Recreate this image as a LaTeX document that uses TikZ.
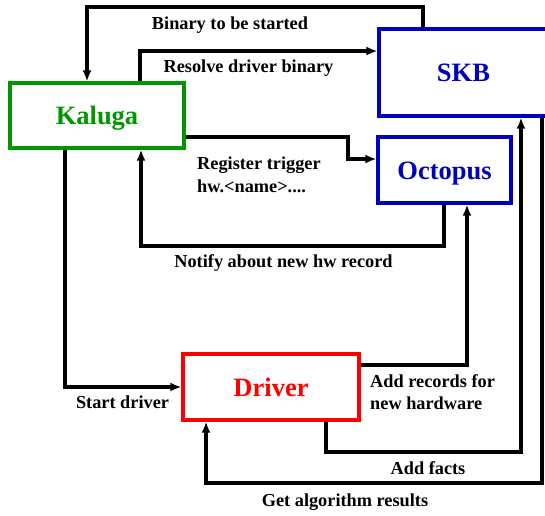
\documentclass[tikz,border=0pt]{standalone}
\usepackage{fontspec}
\setmainfont{Liberation Serif}
\usetikzlibrary{arrows.meta}

\definecolor{kalugagreen}{RGB}{0,150,0}
\definecolor{skbblue}{RGB}{0,0,190}
\definecolor{driverred}{RGB}{255,0,0}

\begin{document}
\begin{tikzpicture}[x=1pt,y=-1pt,
  box/.style={draw, rectangle, line width=3.2pt, inner sep=0pt,
    text height=18pt, text depth=0pt,
    font=\fontsize{26.5}{30}\selectfont\bfseries},
  flow/.style={line width=3.2pt, -{Latex[length=11pt,width=9pt]}},
  lbl/.style={font=\fontsize{18.3}{22.7}\selectfont\bfseries, inner sep=0pt}]

\useasboundingbox (0,0) rectangle (545,515);

% components
\node[box, draw=kalugagreen, text=kalugagreen, minimum width=174, minimum height=65] (kaluga) at (97,115.5) {Kaluga};
\node[box, draw=skbblue, text=skbblue, minimum width=169, minimum height=87] (skb) at (463.5,72.5) {SKB};
\node[box, draw=skbblue, text=skbblue, minimum width=133, minimum height=66] (octopus) at (444.5,170) {Octopus};
\node[box, draw=driverred, text=driverred, minimum width=176, minimum height=66] (driver) at (271,387) {Driver};

% Kaluga <-> SKB
\draw[flow] (skb.north -| 423,0) -- (423,7) -| (kaluga.north -| 87,0);
\draw[flow] (kaluga.north -| 140,0) |- (skb.west |- 0,51);

\node[lbl, anchor=base] (binary) at (230,29) {Binary to be started};
\node[lbl, anchor=base] (resolve) at (248.5,72) {Resolve driver binary};

% Kaluga <-> Octopus
\draw[flow] (kaluga.east |- 0,137) -| (348,159) -- (octopus.west |- 0,159);
\draw[flow] (octopus.south -| 444,0) -- (444,246) -| (kaluga.south -| 141,0);

\node[lbl, anchor=west, align=left] (register) at (197,175) {Register trigger\\hw.<name>....};
\node[lbl, anchor=base] (notify) at (283.5,267) {Notify about new hw record};

% Kaluga -> Driver
\draw[flow] (kaluga.south -| 65,0) |- (driver.west);

\node[lbl, anchor=base] (start) at (122.5,408) {Start driver};

% Driver <-> Octopus, SKB
\draw[flow] (driver.east |- 0,365) -| (octopus.south -| 467,0);
\draw[flow] (driver.south -| 326,0) -- (326,452) -| (skb.south -| 521,0);
\draw[flow] (skb.south -| 542,0) -- (542,483) -| (driver.south -| 206,0);

\node[lbl, anchor=west, align=left] (records) at (370,392) {Add records for\\new hardware};
\node[lbl, anchor=base] (facts) at (428,474) {Add facts};
\node[lbl, anchor=base] (results) at (345,506) {Get algorithm results};

\end{tikzpicture}
\end{document}
